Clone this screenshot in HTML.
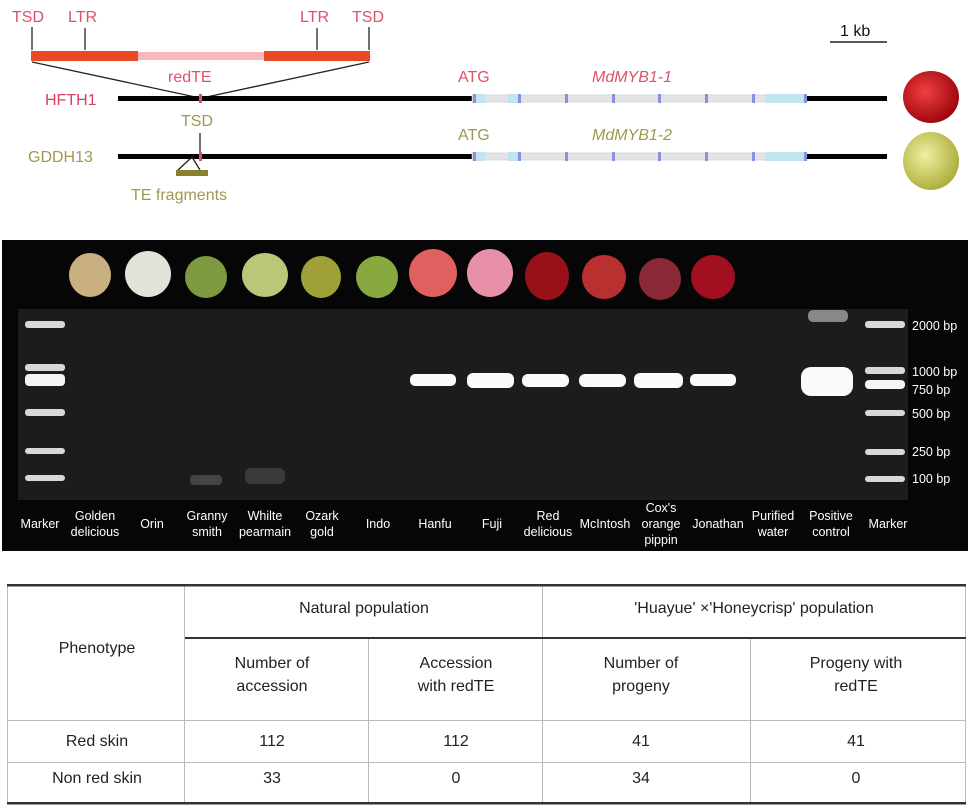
<!DOCTYPE html>
<html><head><meta charset="utf-8"><style>
html,body{margin:0;padding:0;background:#fff;width:972px;height:807px;overflow:hidden}
svg{display:block;font-family:"Liberation Sans",Arial,sans-serif}
</style></head><body>
<svg width="972" height="807" viewBox="0 0 972 807" xmlns="http://www.w3.org/2000/svg">
<defs>
<radialGradient id="ared" cx="40%" cy="40%" r="60%"><stop offset="0" stop-color="#f04040"/><stop offset="1" stop-color="#a00810"/></radialGradient>
<radialGradient id="agrn" cx="40%" cy="40%" r="60%"><stop offset="0" stop-color="#eef0a0"/><stop offset="1" stop-color="#b0b040"/></radialGradient>
</defs>
<g font-size="16" fill="#e0506a">
<text x="12" y="22">TSD</text><text x="68" y="22">LTR</text><text x="300" y="22">LTR</text><text x="352" y="22">TSD</text>
</g>
<g stroke="#222" stroke-width="1.3">
<line x1="32" y1="27" x2="32" y2="50"/><line x1="85" y1="28" x2="85" y2="50"/><line x1="317" y1="28" x2="317" y2="50"/><line x1="369" y1="27" x2="369" y2="50"/>
<line x1="32" y1="62" x2="200" y2="98"/><line x1="369" y1="62" x2="202" y2="98"/>
</g>
<rect x="138" y="52" width="127" height="8" fill="#f7b8bc"/>
<rect x="31" y="51" width="107" height="10" fill="#e84a28"/>
<rect x="264" y="51" width="106" height="10" fill="#e84a28"/>
<text x="168" y="82" font-size="16" fill="#e0506a">redTE</text>
<text x="45" y="105" font-size="16" fill="#d84060">HFTH1</text>
<text x="28" y="162" font-size="16" fill="#a09850">GDDH13</text>
<text x="181" y="126" font-size="16" fill="#a09850">TSD</text>
<text x="131" y="200" font-size="16" fill="#a09850">TE fragments</text>
<rect x="118" y="96" width="356" height="5" fill="#000"/>
<rect x="118" y="154" width="356" height="5" fill="#000"/>
<rect x="806" y="96" width="81" height="5" fill="#000"/>
<rect x="806" y="154" width="81" height="5" fill="#000"/>
<rect x="199" y="94" width="3" height="9" fill="#e0506a"/>
<line x1="200" y1="133" x2="200" y2="152" stroke="#222" stroke-width="1.3"/>
<rect x="199" y="152" width="3" height="9" fill="#e0506a"/>
<path d="M192 157 L178 170 M192 157 L200 170" stroke="#222" stroke-width="1.3" fill="none"/>
<rect x="176" y="170" width="32" height="6" fill="#8a8030"/>
<g font-size="16"><text x="458" y="82" fill="#e0506a">ATG</text><text x="592" y="82" fill="#e0506a" font-style="italic">MdMYB1-1</text>
<text x="458" y="140" fill="#a09850">ATG</text><text x="592" y="140" fill="#a09850" font-style="italic">MdMYB1-2</text></g>
<g id="gene">
<rect x="472" y="95" width="334" height="7" fill="#e4e4e8" stroke="#c8c8d0" stroke-width="0.6"/>
<rect x="473" y="94" width="12" height="9" fill="#bfe6ee"/>
<rect x="508" y="94" width="12" height="9" fill="#bfe6ee"/>
<rect x="766" y="94" width="38" height="9" fill="#bfe6ee"/>
<g fill="#8a90e0"><rect x="518" y="94" width="3" height="9"/><rect x="565" y="94" width="3" height="9"/><rect x="612" y="94" width="3" height="9"/><rect x="658" y="94" width="3" height="9"/><rect x="705" y="94" width="3" height="9"/><rect x="752" y="94" width="3" height="9"/><rect x="473" y="94" width="3" height="9"/><rect x="804" y="94" width="3" height="9"/></g>
</g>
<use href="#gene" y="58"/>
<text x="840" y="36" font-size="16" fill="#111">1 kb</text>
<line x1="830" y1="42" x2="887" y2="42" stroke="#222" stroke-width="1.5"/>
<ellipse cx="931" cy="97" rx="28" ry="26" fill="url(#ared)"/>
<ellipse cx="931" cy="161" rx="28" ry="29" fill="url(#agrn)"/>
<rect x="2" y="240" width="966" height="311" fill="#060606"/>
<rect x="18" y="309" width="890" height="191" fill="#1c1c1c"/>
<g>
<ellipse cx="90" cy="275" rx="21" ry="22" fill="#c8b080"/>
<ellipse cx="148" cy="274" rx="23" ry="23" fill="#e0e4d8"/>
<ellipse cx="206" cy="277" rx="21" ry="21" fill="#7e9a40"/>
<ellipse cx="265" cy="275" rx="23" ry="22" fill="#b8c878"/>
<ellipse cx="321" cy="277" rx="20" ry="21" fill="#a0a038"/>
<ellipse cx="377" cy="277" rx="21" ry="21" fill="#88a840"/>
<ellipse cx="433" cy="273" rx="24" ry="24" fill="#e06060"/>
<ellipse cx="490" cy="273" rx="23" ry="24" fill="#e890a8"/>
<ellipse cx="547" cy="276" rx="22" ry="24" fill="#981018"/>
<ellipse cx="604" cy="277" rx="22" ry="22" fill="#b83030"/>
<ellipse cx="660" cy="279" rx="21" ry="21" fill="#8a2838"/>
<ellipse cx="713" cy="277" rx="22" ry="22" fill="#a01020"/>
</g>
<g fill="#d8d8d8">
<rect x="25" y="321" width="40" height="7" rx="3"/><rect x="25" y="364" width="40" height="7" rx="3"/><rect x="25" y="374" width="40" height="12" rx="4" fill="#f4f4f4"/><rect x="25" y="409" width="40" height="7" rx="3"/><rect x="25" y="448" width="40" height="6" rx="3"/><rect x="25" y="475" width="40" height="6" rx="3"/>
<rect x="865" y="321" width="40" height="7" rx="3"/><rect x="865" y="367" width="40" height="7" rx="3"/><rect x="865" y="380" width="40" height="9" rx="4" fill="#f4f4f4"/><rect x="865" y="410" width="40" height="6" rx="3"/><rect x="865" y="449" width="40" height="6" rx="3"/><rect x="865" y="476" width="40" height="6" rx="3"/>
</g>
<g fill="#fafafa">
<rect x="410" y="374" width="46" height="12" rx="5"/>
<rect x="467" y="373" width="47" height="15" rx="6"/>
<rect x="522" y="374" width="47" height="13" rx="6"/>
<rect x="579" y="374" width="47" height="13" rx="6"/>
<rect x="634" y="373" width="49" height="15" rx="6"/>
<rect x="690" y="374" width="46" height="12" rx="5"/>
<rect x="801" y="367" width="52" height="29" rx="10"/>
</g>
<rect x="808" y="310" width="40" height="12" rx="5" fill="#888"/>
<rect x="190" y="475" width="32" height="10" rx="4" fill="#444"/>
<rect x="245" y="468" width="40" height="16" rx="6" fill="#3a3a3a"/>
<g font-size="12.5" fill="#fff" text-anchor="middle">
<text x="40" y="528">Marker</text>
<text x="95" y="520">Golden</text><text x="95" y="536">delicious</text>
<text x="152" y="528">Orin</text>
<text x="207" y="520">Granny</text><text x="207" y="536">smith</text>
<text x="265" y="520">Whilte</text><text x="265" y="536">pearmain</text>
<text x="322" y="520">Ozark</text><text x="322" y="536">gold</text>
<text x="378" y="528">Indo</text>
<text x="435" y="528">Hanfu</text>
<text x="492" y="528">Fuji</text>
<text x="548" y="520">Red</text><text x="548" y="536">delicious</text>
<text x="605" y="528">McIntosh</text>
<text x="661" y="512">Cox's</text><text x="661" y="528">orange</text><text x="661" y="544">pippin</text>
<text x="718" y="528">Jonathan</text>
<text x="773" y="520">Purified</text><text x="773" y="536">water</text>
<text x="831" y="520">Positive</text><text x="831" y="536">control</text>
<text x="888" y="528">Marker</text>
</g>
<g font-size="12.5" fill="#fff">
<text x="912" y="330">2000 bp</text><text x="912" y="376">1000 bp</text><text x="912" y="394">750 bp</text><text x="912" y="418">500 bp</text><text x="912" y="456">250 bp</text><text x="912" y="483">100 bp</text>
</g>
<g stroke="#bbb" stroke-width="1">
<line x1="184.5" y1="586" x2="184.5" y2="803"/>
<line x1="542.5" y1="586" x2="542.5" y2="803"/>
<line x1="368.5" y1="639" x2="368.5" y2="803"/>
<line x1="750.5" y1="639" x2="750.5" y2="803"/>
<line x1="7" y1="720.5" x2="966" y2="720.5"/>
<line x1="7" y1="762.5" x2="966" y2="762.5"/>
<line x1="7.5" y1="586" x2="7.5" y2="803"/>
<line x1="965.5" y1="586" x2="965.5" y2="803"/>
</g>
<rect x="7" y="584" width="959" height="2.5" fill="#333"/>
<rect x="185" y="637" width="781" height="2" fill="#333"/>
<rect x="7" y="802" width="959" height="2.5" fill="#333"/>
<g font-size="16" fill="#222" text-anchor="middle">
<text x="97" y="653">Phenotype</text>
<text x="364" y="613">Natural population</text>
<text x="754" y="613">'Huayue' ×'Honeycrisp' population</text>
<text x="272" y="668">Number of</text><text x="272" y="691">accession</text>
<text x="456" y="668">Accession</text><text x="456" y="691">with redTE</text>
<text x="641" y="668">Number of</text><text x="641" y="691">progeny</text>
<text x="856" y="668">Progeny with</text><text x="856" y="691">redTE</text>
<text x="97" y="746">Red skin</text><text x="272" y="746">112</text><text x="456" y="746">112</text><text x="641" y="746">41</text><text x="856" y="746">41</text>
<text x="97" y="783">Non red skin</text><text x="272" y="783">33</text><text x="456" y="783">0</text><text x="641" y="783">34</text><text x="856" y="783">0</text>
</g>
</svg>
</body></html>
